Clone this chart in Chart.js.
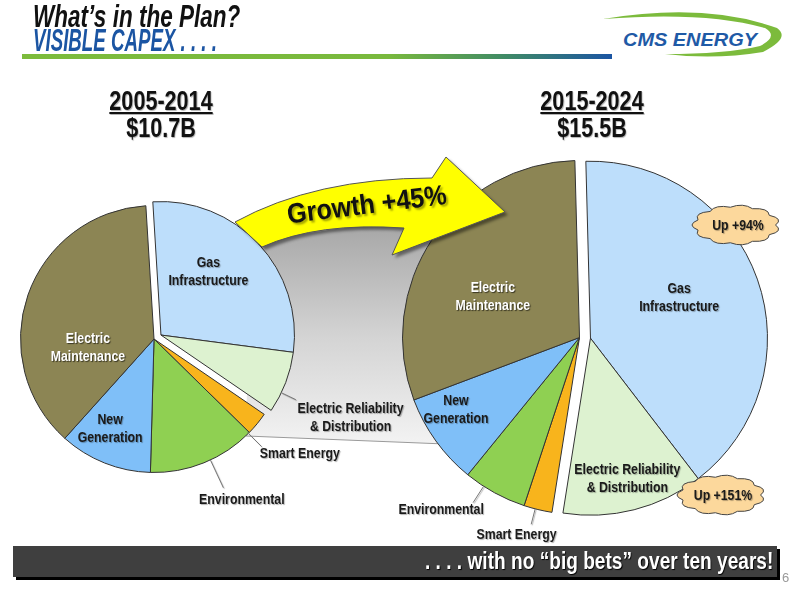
<!DOCTYPE html>
<html>
<head>
<meta charset="utf-8">
<script src="https://cdn.jsdelivr.net/npm/chart.js@4.4.1/dist/chart.umd.min.js"></script>
<style>
  body { margin: 0; width: 800px; height: 600px; background: #fff; overflow: hidden; position: relative;
         font-family: "Liberation Sans", Arial, sans-serif; }
  canvas.pie { position: absolute; left: 0; top: 0; }
  .fit { position: absolute; white-space: nowrap; transform-origin: 0 0; }
  #t1 { left: 33px; top: -1px; font: italic bold 31px "Liberation Sans", Arial, sans-serif; color: #111; }
  #t2 { left: 33px; top: 23px; font: italic bold 31px "Liberation Sans", Arial, sans-serif; color: #1b55a3; }
  #rule { position: absolute; left: 22px; top: 54px; width: 590px; height: 5px;
          background: linear-gradient(to right, #7cbb3c 0%, #79b93d 62%, #3f8a66 82%, #1b55a3 100%); }
  .period { position: absolute; width: 200px; text-align: center; font-weight: bold; font-size: 27px; line-height: 27px;
            color: #111; text-shadow: 1px 1px 1px rgba(0,0,0,0.3); transform: scaleX(0.8); transform-origin: 50% 0; }
  .period u { text-decoration-thickness: 2px; text-underline-offset: 2px; }
  #footer { position: absolute; left: 13px; top: 546px; width: 764px; height: 31px; background: #3f3f3f;
            box-shadow: 3px 3px 0 #000; }
  #ftext { color: #fff; font-weight: bold; font-size: 24px; top: 547px; text-shadow: 1px 1px 1px #000; }
  #pnum { position: absolute; left: 782px; top: 570px; font: 13px "Liberation Sans", sans-serif; color: #999; }
</style>
</head>
<body>
<div id="t1" class="fit" data-w="207">What’s in the Plan?</div>
<div id="t2" class="fit" data-w="184">VISIBLE CAPEX . . . .</div>
<div id="rule"></div>
<svg style="position:absolute;left:595px;top:6px" width="200" height="56">
  <path d="M8 13 Q110 -4 182 22 Q196 32 168 46 Q120 54 70 48 Q130 48 165 40 Q184 30 170 22 Q110 5 8 13 Z" fill="#7cbb3c"/>
  <text x="28" y="40" font-family="Liberation Sans, sans-serif" font-style="italic" font-weight="bold" font-size="19"
        fill="#1f5aa6" textLength="134" lengthAdjust="spacingAndGlyphs">CMS ENERGY</text>
</svg>

<div id="p0" class="period" style="left:61px;top:88px"></div>
<div id="p1" class="period" style="left:492px;top:88px"></div>

<canvas id="pie2005" class="pie" width="800" height="600"></canvas>
<canvas id="pie2015" class="pie" width="800" height="600"></canvas>

<div id="footer"></div>
<div id="ftext" class="fit" data-w="348" data-r="773">. . . . with no “big bets” over ten years!</div>
<div id="pnum">6</div>

<script>
// capex by category, $ billions
const categories = ['Gas Infrastructure', 'Electric Reliability & Distribution', 'Smart Energy',
                    'Environmental', 'New Generation', 'Electric Maintenance'];
const capex2005 = [3.0, 0.8, 0.3, 1.4, 1.2, 4.0];
const capex2015 = [6.2, 2.0, 0.4, 0.9, 1.3, 4.7];
const periods = ['2005-2014', '2015-2024'];
const totals = ['$10.7B', '$15.5B'];
const growthText = 'Growth +45%';
const callouts = ['Up +94%', 'Up +151%'];

const sliceColors = ['#bddefb', '#ddf2d0', '#f8b41c', '#8fd052', '#7fbff8', '#8c8554'];
const labelLines = {
  'Gas Infrastructure': ['Gas', 'Infrastructure'],
  'Electric Reliability & Distribution': ['Electric Reliability', '& Distribution'],
  'New Generation': ['New', 'Generation'],
  'Electric Maintenance': ['Electric', 'Maintenance']
};
const FONT = '"Liberation Sans", Arial, sans-serif';
const NARROW = 0.82;   // Arial Narrow look

periods.forEach((p, i) => {
  document.getElementById('p' + i).innerHTML = '<u>' + p + '</u><br>' + totals[i];
});

// squeeze header / footer text to the widths in the slide
document.querySelectorAll('.fit').forEach(el => {
  const w = el.scrollWidth;
  const target = +el.dataset.w;
  el.style.transform = 'scaleX(' + (target / w) + ')';
  if (el.dataset.r) el.style.left = (+el.dataset.r - target) + 'px';
});

function narrowText(ctx, s, x, y, sx) {
  ctx.save();
  ctx.translate(x, y);
  ctx.scale(sx, 1);
  ctx.fillText(s, 0, 0);
  ctx.restore();
}

// pulls a group of slices out together, along the group's middle angle
const explodePlugin = {
  id: 'explode',
  afterDatasetsUpdate(chart, args, opts) {
    const arcs = chart.getDatasetMeta(0).data;
    const g = opts.group;
    const mid = (arcs[g[0]].startAngle + arcs[g[g.length - 1]].endAngle) / 2;
    g.forEach(i => {
      arcs[i].x += Math.cos(mid) * opts.distance;
      arcs[i].y += Math.sin(mid) * opts.distance;
    });
  }
};

function polar(el, deg, f) {
  const t = deg * Math.PI / 180;
  return [el.x + Math.sin(t) * el.outerRadius * f, el.y - Math.cos(t) * el.outerRadius * f];
}

const labelPlugin = {
  id: 'sliceLabels',
  afterDatasetsDraw(chart, args, opts) {
    const ctx = chart.ctx;
    const arcs = chart.getDatasetMeta(0).data;
    ctx.save();
    opts.items.forEach(it => {
      const el = arcs[it.i];
      if (it.leader) {
        const a = polar(el, it.la, it.leader[0]);
        const b = polar(el, it.la, it.leader[1]);
        ctx.strokeStyle = '#777';
        ctx.lineWidth = 1;
        ctx.beginPath(); ctx.moveTo(a[0], a[1]); ctx.lineTo(b[0], b[1]); ctx.stroke();
      }
      const pos = polar(el, it.a, it.f);
      const lines = labelLines[categories[it.i]] || [categories[it.i]];
      ctx.font = 'bold 15px ' + FONT;
      ctx.textAlign = 'center';
      ctx.textBaseline = 'middle';
      ctx.shadowColor = it.color === '#fff' ? 'rgba(0,0,0,0.6)' : 'rgba(0,0,0,0.3)';
      ctx.shadowOffsetX = 1; ctx.shadowOffsetY = 1; ctx.shadowBlur = 1;
      ctx.fillStyle = it.color || '#1a1a1a';
      lines.forEach((ln, k) => {
        narrowText(ctx, ln, pos[0], pos[1] + (k - (lines.length - 1) / 2) * 18, NARROW);
      });
    });
    ctx.restore();
  }
};

// grey band joining the two pies (under the left pie)
const bandPlugin = {
  id: 'band',
  beforeDatasetsDraw(chart) {
    const ctx = chart.ctx;
    ctx.save();
    const g = ctx.createLinearGradient(0, 230, 0, 445);
    g.addColorStop(0, '#a9a9a9');
    g.addColorStop(0.5, '#d4d4d4');
    g.addColorStop(1, '#f3f3f3');
    ctx.fillStyle = g;
    ctx.beginPath();
    ctx.moveTo(250, 246);
    ctx.quadraticCurveTo(330, 222, 470, 222);
    ctx.lineTo(470, 445);
    ctx.lineTo(246, 436);
    ctx.closePath();
    ctx.fill();
    ctx.strokeStyle = '#9a9a9a';
    ctx.beginPath(); ctx.moveTo(246, 436); ctx.lineTo(470, 445); ctx.stroke();
    ctx.restore();
  }
};

function cloud(ctx, cx, cy, w, h, text) {
  const n = 11;
  const pts = [];
  for (let k = 0; k < n; k++) {
    const t = k / n * Math.PI * 2;
    pts.push([cx + Math.cos(t) * w / 2 * 0.86, cy + Math.sin(t) * h / 2 * 0.78]);
  }
  ctx.save();
  ctx.beginPath();
  ctx.moveTo(pts[0][0], pts[0][1]);
  for (let k = 0; k < n; k++) {
    const p = pts[k], q = pts[(k + 1) % n];
    const mx = (p[0] + q[0]) / 2, my = (p[1] + q[1]) / 2;
    const c = [cx + (mx - cx) * 1.32, cy + (my - cy) * 1.32];
    ctx.quadraticCurveTo(c[0], c[1], q[0], q[1]);
  }
  ctx.closePath();
  ctx.fillStyle = '#fcd89c';
  ctx.fill();
  ctx.strokeStyle = '#444';
  ctx.lineWidth = 1;
  ctx.stroke();
  ctx.font = 'bold 15px ' + FONT;
  ctx.textAlign = 'center';
  ctx.textBaseline = 'middle';
  ctx.fillStyle = '#1a1a1a';
  ctx.shadowColor = 'rgba(0,0,0,0.3)';
  ctx.shadowOffsetX = 1; ctx.shadowOffsetY = 1; ctx.shadowBlur = 1;
  narrowText(ctx, text, cx + 2, cy + 1, NARROW);
  ctx.restore();
}

// growth arrow + callout clouds, on top of the right pie
const overlayPlugin = {
  id: 'overlay',
  afterDraw(chart) {
    const ctx = chart.ctx;
    ctx.save();
    ctx.shadowColor = 'rgba(0,0,0,0.45)';
    ctx.shadowOffsetX = 3; ctx.shadowOffsetY = 3; ctx.shadowBlur = 3;
    ctx.beginPath();
    ctx.moveTo(235, 222);
    ctx.quadraticCurveTo(315, 178, 432, 178);
    ctx.lineTo(446, 157);
    ctx.lineTo(505, 212);
    ctx.lineTo(392, 255);
    ctx.lineTo(404, 228);
    ctx.quadraticCurveTo(318, 222, 262, 247);
    ctx.closePath();
    ctx.fillStyle = '#ffff00';
    ctx.fill();
    ctx.shadowColor = 'transparent';
    ctx.strokeStyle = '#555';
    ctx.lineWidth = 1;
    ctx.stroke();
    ctx.translate(367, 206);
    ctx.rotate(-7 * Math.PI / 180);
    ctx.font = 'bold 28px ' + FONT;
    ctx.textAlign = 'center';
    ctx.textBaseline = 'middle';
    ctx.shadowColor = 'rgba(0,0,0,0.35)';
    ctx.shadowOffsetX = 2; ctx.shadowOffsetY = 2; ctx.shadowBlur = 2;
    ctx.fillStyle = '#111';
    narrowText(ctx, growthText, 0, 0, 0.9);
    ctx.restore();

    cloud(ctx, 736, 225, 92, 46, callouts[0]);
    cloud(ctx, 721, 495, 92, 46, callouts[1]);
  }
};

function makePie(id, values, rotation, padding, distance, labels, extra) {
  return new Chart(document.getElementById(id), {
    type: 'pie',
    data: {
      labels: categories,
      datasets: [{
        data: values,
        backgroundColor: sliceColors,
        borderColor: '#333',
        borderWidth: 1
      }]
    },
    options: {
      responsive: false,
      devicePixelRatio: 1,
      animation: false,
      rotation: rotation,
      layout: { padding: padding },
      events: [],
      plugins: {
        legend: { display: false },
        tooltip: { enabled: false },
        explode: { group: [0, 1], distance: distance },
        sliceLabels: { items: labels }
      }
    },
    plugins: [explodePlugin, labelPlugin].concat(extra)
  });
}

makePie('pie2005', capex2005, -3.5,
  { left: 20, top: 205, right: 512, bottom: 127 }, 8,
  [
    { i: 0, a: 37, f: 0.59 },
    { i: 5, a: 262, f: 0.5, color: '#fff' },
    { i: 4, a: 206, f: 0.75 },
    { i: 1, a: 113.6, f: 1.55, la: 115.6, leader: [1.0, 1.12] },
    { i: 2, a: 128.2, f: 1.39, la: 135, leader: [0.99, 1.14] },
    { i: 3, a: 151.3, f: 1.37, la: 155, leader: [1.0, 1.23] }
  ], [bandPlugin]);

makePie('pie2015', capex2015, -1.5,
  { left: 402, top: 160, right: 43, bottom: 85 }, 11,
  [
    { i: 5, a: 295, f: 0.54, color: '#fff' },
    { i: 0, a: 65.6, f: 0.55 },
    { i: 4, a: 239.5, f: 0.81 },
    { i: 1, a: 165.3, f: 0.82 },
    { i: 3, a: 218.7, f: 1.25, la: 212.8, leader: [1.0, 1.11] },
    { i: 2, a: 197.7, f: 1.17, la: 194.5, leader: [1.0, 1.09] }
  ], [overlayPlugin]);
</script>
</body>
</html>
